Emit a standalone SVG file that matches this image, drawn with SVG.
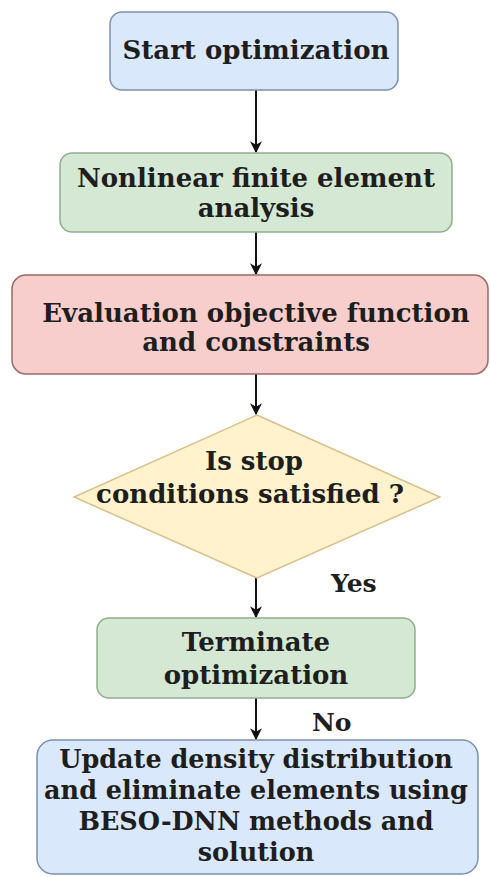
<svg xmlns="http://www.w3.org/2000/svg" width="491" height="877" viewBox="0 0 491 877">
<style>
text{font-family:"DejaVu Serif","Liberation Serif",serif;font-weight:bold;font-size:26px;fill:#1e1e1e;text-anchor:middle}
.blue{fill:#dae8fc;stroke:#7d90ab;stroke-width:1.5}
.green{fill:#d5e8d4;stroke:#8fae8a;stroke-width:1.5}
.red{fill:#f8cecc;stroke:#9a6a66;stroke-width:1.5}
.yellow{fill:#fff2cc;stroke:#d9c08a;stroke-width:1.5}
.edge{stroke:#111;stroke-width:2;fill:none;marker-end:url(#arr)}
.lbl{text-anchor:start;font-size:25px}
.sm{font-size:25.5px}
</style>
<defs>
<marker id="arr" viewBox="0 0 10 10" refX="9" refY="5" markerWidth="6" markerHeight="6" orient="auto" markerUnits="strokeWidth">
<path d="M0,0 L10,5 L0,10 L3,5 z" fill="#111"/>
</marker>
</defs>
<rect width="491" height="877" fill="#fff"/>
<g id="connectors">
<line class="edge" x1="256" y1="90" x2="256" y2="152"/>
<line class="edge" x1="256" y1="232" x2="256" y2="274"/>
<line class="edge" x1="256" y1="374" x2="256" y2="414"/>
<line class="edge" x1="256" y1="578" x2="256" y2="617"/>
<line class="edge" x1="256" y1="698" x2="256" y2="739"/>
<text class="lbl" x="331" y="592">Yes</text>
<text class="lbl" x="312" y="731">No</text>
</g>
<g id="start">
<rect class="blue" x="110" y="12" width="288" height="78" rx="12"/>
<text x="256" y="59">Start optimization</text>
</g>
<g id="fea">
<rect class="green" x="60" y="153" width="392" height="79" rx="12"/>
<text x="256" y="187">Nonlinear finite element</text>
<text x="256" y="217">analysis</text>
</g>
<g id="evaluate">
<rect class="red" x="12" y="275" width="476" height="99" rx="14"/>
<text x="256" y="322">Evaluation objective function</text>
<text x="256" y="351">and constraints</text>
</g>
<g id="decision">
<polygon class="yellow" points="257,415 440,497 257,578 74,497"/>
<text x="254" y="470">Is stop</text>
<text x="250" y="503">conditions satisfied ?</text>
</g>
<g id="terminate">
<rect class="green" x="97" y="618" width="318" height="80" rx="12"/>
<text x="256" y="651">Terminate</text>
<text x="256" y="684">optimization</text>
</g>
<g id="update">
<rect class="blue" x="37" y="740" width="441" height="134" rx="16"/>
<text class="sm" x="256" y="768">Update density distribution</text>
<text class="sm" x="256" y="799">and eliminate elements using</text>
<text class="sm" x="256" y="830">BESO-DNN methods and</text>
<text class="sm" x="256" y="861">solution</text>
</g>
</svg>
